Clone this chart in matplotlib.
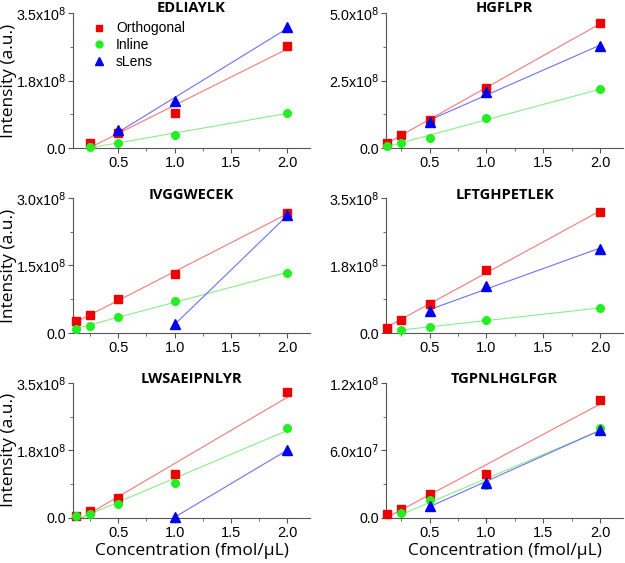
import numpy as np
import matplotlib
matplotlib.use("Agg")
from matplotlib import pyplot as plt
from matplotlib.ticker import FixedLocator, AutoMinorLocator

# concentraciones (fmol/uL)
conc = [0.125, 0.25, 0.5, 1.0, 2.0]

peptidos = ["EDLIAYLK", "HGFLPR", "IVGGWECEK", "LFTGHPETLEK", "LWSAEIPNLYR", "TGPNLHGLFGR"]

# intensidades, None = sin punto
orto = [
    [None, 0.12e8, 0.38e8, 0.92e8, 2.65e8],
    [0.20e8, 0.48e8, 1.04e8, 2.21e8, 4.62e8],
    [0.26e8, 0.39e8, 0.76e8, 1.30e8, 2.67e8],
    [0.13e8, 0.35e8, 0.75e8, 1.62e8, 3.14e8],
    [0.04e8, 0.17e8, 0.51e8, 1.14e8, 3.26e8],
    [0.035e8, 0.082e8, 0.21e8, 0.39e8, 1.05e8],
]
inline = [
    [None, 0.03e8, 0.14e8, 0.34e8, 0.92e8],
    [0.09e8, 0.20e8, 0.38e8, 1.12e8, 2.17e8],
    [0.09e8, 0.16e8, 0.36e8, 0.72e8, 1.33e8],
    [None, 0.07e8, 0.15e8, 0.35e8, 0.64e8],
    [0.04e8, 0.11e8, 0.37e8, 0.91e8, 2.33e8],
    [None, 0.044e8, 0.16e8, 0.29e8, 0.80e8],
]
slens = [
    [None, None, 0.47e8, 1.22e8, 3.13e8],
    [None, None, 0.97e8, 2.06e8, 3.78e8],
    [None, None, None, 0.19e8, 2.61e8],
    [None, None, 0.56e8, 1.21e8, 2.18e8],
    [None, None, None, 0.02e8, 1.76e8],
    [None, None, 0.11e8, 0.31e8, 0.785e8],
]

ymax = [3.5e8, 5.0e8, 3.0e8, 3.5e8, 3.5e8, 1.2e8]
yticks = [
    [0, 1.75e8, 3.5e8],
    [0, 2.5e8, 5.0e8],
    [0, 1.5e8, 3.0e8],
    [0, 1.75e8, 3.5e8],
    [0, 1.75e8, 3.5e8],
    [0, 0.6e8, 1.2e8],
]
ylabels = [
    ["0.0", "1.8x10$^8$", "3.5x10$^8$"],
    ["0.0", "2.5x10$^8$", "5.0x10$^8$"],
    ["0.0", "1.5x10$^8$", "3.0x10$^8$"],
    ["0.0", "1.8x10$^8$", "3.5x10$^8$"],
    ["0.0", "1.8x10$^8$", "3.5x10$^8$"],
    ["0.0", "6.0x10$^7$", "1.2x10$^8$"],
]

series = [
    ("Orthogonal", orto, "#ee0000", "s", "#f07a7a"),
    ("Inline", inline, "#22ee22", "o", "#88ee88"),
    ("sLens", slens, "#0000ee", "^", "#7070ee"),
]

plt.rcParams["font.family"] = ["Liberation Sans", "DejaVu Sans"]
fig = plt.figure(figsize=(6.25, 5.63), dpi=100)

lefts = [0.117, 0.618]
bottoms = [0.737, 0.4085, 0.080]
w, h = 0.379, 0.24
tit_y = [1.04, 1.04, 1.025, 1.025, 1.03, 1.03]

for k in range(6):
    fila, col = k // 2, k % 2
    ax = fig.add_axes([lefts[col], bottoms[fila], w, h])
    for nombre, datos, color, mk, lcolor in series:
        xs = [c for c, v in zip(conc, datos[k]) if v is not None]
        ys = [v for v in datos[k] if v is not None]
        # recta de ajuste lineal
        p = np.polyfit(xs, ys, 1)
        xl = np.array([min(xs), max(xs)])
        ax.plot(xl, np.polyval(p, xl), color=lcolor, lw=0.8, zorder=2)
        ax.plot(xs, ys, mk, color=color, ms=5.5 if mk != "^" else 6.5,
                mec=color, label=nombre, zorder=3, clip_on=False)
    ax.set_xlim(0.1 if col == 0 else 0.12, 2.2)
    ax.set_ylim(0, ymax[k])
    ax.xaxis.set_major_locator(FixedLocator([0.5, 1.0, 1.5, 2.0]))
    ax.set_xticklabels(["0.5", "1.0", "1.5", "2.0"])
    ax.xaxis.set_minor_locator(FixedLocator([0.25, 0.75, 1.25, 1.75]))
    ax.yaxis.set_major_locator(FixedLocator(yticks[k]))
    ax.set_yticklabels(ylabels[k])
    ax.yaxis.set_minor_locator(AutoMinorLocator(2))
    for s in ["top", "right"]:
        ax.spines[s].set_visible(False)
    for s in ["left", "bottom"]:
        ax.spines[s].set_color("#555555")
        ax.spines[s].set_linewidth(0.8)
    ax.tick_params(which="major", direction="out", length=3.5, width=0.8,
                   color="#555555", labelsize=10.5, pad=2)
    ax.tick_params(axis="y", which="major", labelsize=10.3, pad=1.5)
    ax.tick_params(which="minor", direction="out", length=2, width=0.6, color="#555555")
    ax.text(0.5, tit_y[k], peptidos[k], transform=ax.transAxes, ha="center", va="center",
            fontsize=10.5, fontweight="bold", family=["Open Sans", "DejaVu Sans"])
    if col == 0:
        ax.set_ylabel("Intensity (a.u.)", fontsize=12.5, family=["Open Sans", "DejaVu Sans"])
        ax.yaxis.set_label_coords(-0.235, 0.5)
    if fila == 2:
        ax.set_xlabel("Concentration (fmol/\u00b5L)", fontsize=12.5,
                      family=["Open Sans", "DejaVu Sans"], labelpad=2.5)
    if k == 0:
        ax.legend(loc="upper left", bbox_to_anchor=(0.023, 1.03), frameon=False,
                  fontsize=10, handletextpad=0.6, labelspacing=0.2, markerscale=0.9,
                  handlelength=1.2)

fig.savefig("out.png", dpi=100)
